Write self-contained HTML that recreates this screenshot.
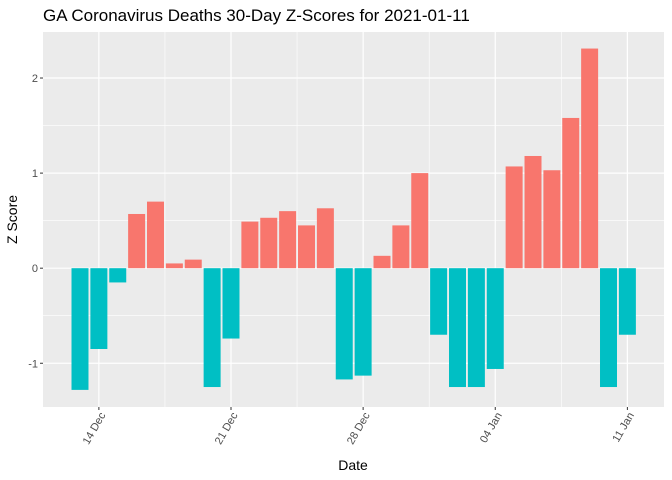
<!DOCTYPE html>
<html><head><meta charset="utf-8"><style>
body{margin:0;background:#fff}
svg{display:block;font-family:"Liberation Sans",Arial,sans-serif}
</style></head><body>
<svg id="chart" width="672" height="480">
<text x="43" y="21" font-size="17" fill="#000">GA Coronavirus Deaths 30-Day Z-Scores for 2021-01-11</text>
<rect x="43" y="32" width="621" height="375" fill="#ebebeb"/>
<g id="grid"></g>
<g id="bars"></g>
<g id="axes"></g>
<text x="353" y="470" font-size="14" text-anchor="middle" fill="#000">Date</text>
<text transform="translate(17,219.5) rotate(-90)" font-size="14" text-anchor="middle" fill="#000">Z Score</text>
</svg>
<script>
const dayOffsets = [-1,0,1,2,3,4,5,6,7,8,9,10,11,12,13,14,15,16,17,18,19,20,21,22,23,24,25,26,27,28];
const zScores = [-1.28,-0.85,-0.15,0.57,0.70,0.05,0.09,-1.25,-0.74,0.49,0.53,0.60,0.45,0.63,-1.17,-1.13,0.13,0.45,1.00,-0.70,-1.25,-1.25,-1.06,1.07,1.18,1.03,1.58,2.31,-1.25,-0.70];
const xTickDays = [0,7,14,21,28];
const xTickLabels = ["14 Dec","21 Dec","28 Dec","04 Jan","11 Jan"];
const yTicks = [-1,0,1,2];
const yMinor = [-0.5,0.5,1.5];

const NS="http://www.w3.org/2000/svg";
const X0=43,X1=664,Y0=32,Y1=407;
const dMin=-2.96,dMax=28+1.94,vMin=-1.46,vMax=2.484;
const x=d=>X0+(d-dMin)/(dMax-dMin)*(X1-X0);
const y=v=>Y1-(v-vMin)/(vMax-vMin)*(Y1-Y0);
function mk(tag,attrs,parent){const e=document.createElementNS(NS,tag);for(const k in attrs)e.setAttribute(k,attrs[k]);parent.appendChild(e);return e;}
const grid=document.getElementById('grid'),bars=document.getElementById('bars'),axes=document.getElementById('axes');
yMinor.forEach(v=>{const l=mk('line',{x1:X0,x2:X1,y1:y(v),y2:y(v),stroke:'#fff','stroke-width':0.6},grid);

});
xTickDays.slice(0,-1).forEach(d=>{const l=mk('line',{x1:x(d+3.5),x2:x(d+3.5),y1:Y0,y2:Y1,stroke:'#fff','stroke-width':0.6},grid);

});
yTicks.forEach(v=>{const l=mk('line',{x1:X0,x2:X1,y1:y(v),y2:y(v),stroke:'#fff','stroke-width':1.2},grid);


const t=mk('line',{x1:X0-3,x2:X0,y1:y(v),y2:y(v),stroke:'#333','stroke-width':1},axes);


const tx=mk('text',{x:X0-5,y:y(v)+4,'font-size':11,'text-anchor':'end',fill:'#4d4d4d'},axes);tx.textContent=v;

});
xTickDays.forEach((d,i)=>{const l=mk('line',{x1:x(d),x2:x(d),y1:Y0,y2:Y1,stroke:'#fff','stroke-width':1.2},grid);


const t=mk('line',{x1:x(d),x2:x(d),y1:Y1,y2:Y1+3,stroke:'#333','stroke-width':1},axes);


const tx=mk('text',{transform:`translate(${x(d)+7},${Y1+8}) rotate(-60)`,'font-size':11,'text-anchor':'end',fill:'#4d4d4d'},axes);tx.textContent=xTickLabels[i];

});
const bw=(x(1)-x(0))*0.9;
dayOffsets.forEach((d,i)=>{const v=zScores[i];const top=y(Math.max(v,0)),bot=y(Math.min(v,0));
const r=mk('rect',{x:x(d)-bw/2,y:top,width:bw,height:bot-top,fill:v>=0?'#f8766d':'#00bfc4'},bars);

});
</script>
</body></html>
